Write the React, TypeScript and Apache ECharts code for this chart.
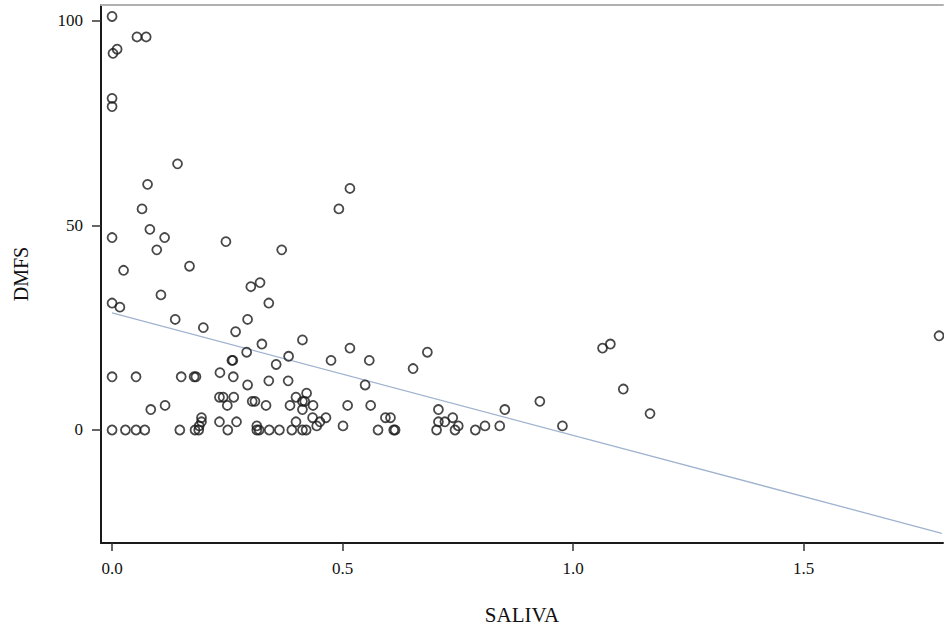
import React, { useEffect, useRef } from "react";
import * as echarts from "echarts";

const xTicks = [0, 0.5, 1.0, 1.5];
const yTicks = [0, 50, 100];

// SALIVA values and matching DMFS values
const saliva = [
  0, 0.002, 0.011, 0.054, 0.074, 0, 0, 0.142, 0.077, 0.065, 0.082, 0, 0.114, 0.097, 0.247, 0.368,
  0.025, 0.168, 0.301, 0.321, 0.106, 0, 0.017, 0.34, 0.137, 0.198, 0.294, 0.268, 0.413, 0.325,
  0.292, 0.383, 0.26, 0.262, 0.356, 0.492, 0.516,
  0, 0.052, 0.15, 0.178, 0.182, 0.234, 0.263, 0.294, 0.34, 0.382, 0.233, 0.241, 0.264, 0.25,
  0.304, 0.31, 0.334, 0.084, 0.115, 0.399, 0.422, 0.386, 0.413, 0.418, 0.413, 0.436, 0.435,
  0.194, 0.194, 0.189, 0.233, 0.27, 0.399, 0.314, 0.444, 0.516, 0.475, 0.558, 0.684, 0.653,
  0.549, 1.064, 1.081, 1.109, 0.511, 0.561, 0.708, 0.852, 0.928, 0.464, 0.451, 0.593, 0.604,
  0.708, 0.722, 0.739, 0.751, 0.501, 0.809, 0.841, 0.977, 1.167, 1.794,
  0, 0.029, 0.052, 0.071, 0.147, 0.18, 0.188, 0.251, 0.314, 0.319, 0.341, 0.363, 0.39, 0.413,
  0.421, 0.577, 0.611, 0.614, 0.704, 0.744, 0.788,
];
const dmfs = [
  101, 92, 93, 96, 96, 81, 79, 65, 60, 54, 49, 47, 47, 44, 46, 44,
  39, 40, 35, 36, 33, 31, 30, 31, 27, 25, 27, 24, 22, 21,
  19, 18, 17, 17, 16, 54, 59,
  13, 13, 13, 13, 13, 14, 13, 11, 12, 12, 8, 8, 8, 6,
  7, 7, 6, 5, 6, 8, 9, 6, 7, 7, 5, 6, 3,
  3, 2, 1, 2, 2, 2, 1, 1, 20, 17, 17, 19, 15,
  11, 20, 21, 10, 6, 6, 5, 5, 7, 3, 2, 3, 3,
  2, 2, 3, 1, 1, 1, 1, 1, 4, 23,
  0, 0, 0, 0, 0, 0, 0, 0, 0, 0, 0, 0, 0, 0,
  0, 0, 0, 0, 0, 0, 0,
];

// fitted regression line
const fitIntercept = 28.6;
const fitSlope = -29.9;
const fitRange = [0, 1.8];

const FONT = "'Liberation Serif', 'Times New Roman', Times, serif";

export default function App() {
  const ref = useRef<HTMLDivElement>(null);
  useEffect(() => {
    const chart = echarts.init(ref.current!, null, { renderer: "svg" });
    const points = saliva.map((x, i) => [x, dmfs[i]]);
    const fitLine = fitRange.map((x) => [x, fitIntercept + fitSlope * x]);
    chart.setOption({
      animation: false,
      backgroundColor: "#fff",
      grid: { left: 101, right: 1, top: 5, bottom: 87, containLabel: false },
      xAxis: [
        {
          type: "value",
          min: -0.024,
          max: 1.8026,
          splitLine: { show: false },
          axisLine: { show: true, onZero: false, lineStyle: { color: "#1a1a1a", width: 2 } },
          axisTick: { show: true, customValues: xTicks, length: 8, lineStyle: { color: "#333", width: 1.5 } },
          axisLabel: {
            customValues: xTicks,
            formatter: (v: number) => v.toFixed(1),
            fontFamily: FONT,
            fontSize: 17,
            color: "#111",
            margin: 17,
          },
          name: "SALIVA",
          nameLocation: "middle",
          nameGap: 61,
          nameTextStyle: { fontFamily: FONT, fontSize: 21, color: "#111" },
        },
        {
          type: "value",
          position: "top",
          min: -0.024,
          max: 1.8026,
          splitLine: { show: false },
          axisLine: { show: true, onZero: false, lineStyle: { color: "#b0b0b0", width: 2 } },
          axisTick: { show: false },
          axisLabel: { show: false },
        },
      ],
      yAxis: {
        type: "value",
        min: -27.6,
        max: 103.8,
        splitLine: { show: false },
        axisLine: { show: true, onZero: false, lineStyle: { color: "#1a1a1a", width: 2 } },
        axisTick: { show: true, customValues: yTicks, length: 9, lineStyle: { color: "#333", width: 1.5 } },
        axisLabel: {
          customValues: yTicks,
          fontFamily: FONT,
          fontSize: 17,
          color: "#111",
          margin: 18,
        },
        name: "DMFS",
        nameLocation: "middle",
        nameGap: 70,
        nameTextStyle: { fontFamily: FONT, fontSize: 20, color: "#111" },
      },
      series: [
        {
          type: "line",
          data: fitLine,
          symbol: "none",
          lineStyle: { color: "#9fb3cf", width: 1.3 },
          silent: true,
          z: 1,
        },
        {
          type: "scatter",
          data: points,
          symbol: "circle",
          symbolSize: 9,
          itemStyle: { color: "rgba(0,0,0,0)", borderColor: "#1a1a1a", borderWidth: 1.8 },
          z: 2,
        },
      ],
    });
    return () => chart.dispose();
  }, []);
  return (
    <div
      ref={ref}
      style={{ position: "fixed", left: 0, top: 0, width: 944, height: 630, background: "#fff" }}
    />
  );
}
